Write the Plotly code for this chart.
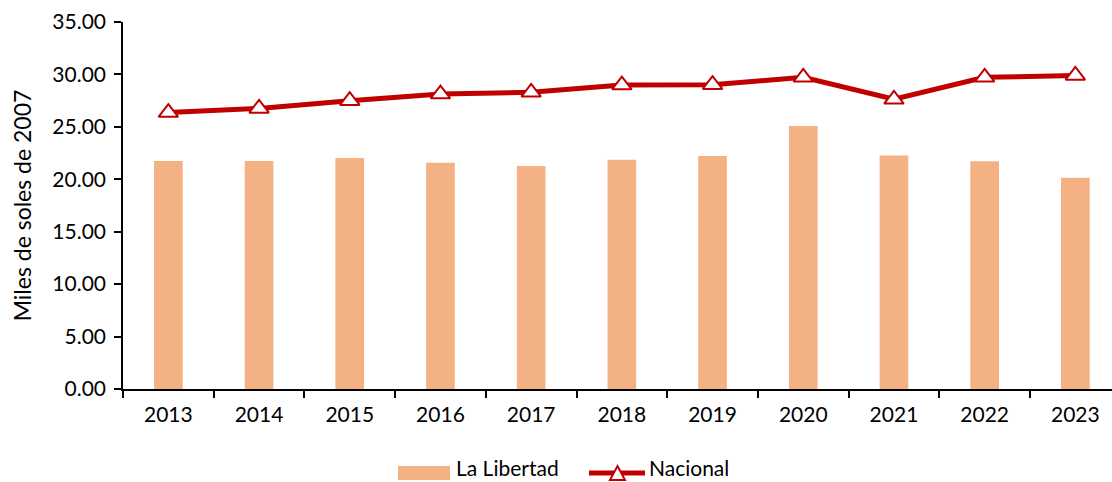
import plotly.graph_objects as go

years = ["2013", "2014", "2015", "2016", "2017", "2018", "2019", "2020", "2021", "2022", "2023"]
la_libertad = [21.74, 21.74, 22.03, 21.58, 21.27, 21.87, 22.22, 25.08, 22.28, 21.71, 20.15]
nacional = [26.36, 26.76, 27.50, 28.13, 28.29, 28.99, 29.02, 29.72, 27.63, 29.72, 29.90]
y_ticks = [0, 5, 10, 15, 20, 25, 30, 35]

BAR_COLOR = "#F4B183"
LINE_COLOR = "#C00000"
font_family = "Lato, Carlito, Calibri, sans-serif"

W, H = 1112, 482
ML, MR, MT, MB = 123, 0, 22, 93
PW, PH = W - ML - MR, H - MT - MB


def px(x):
    return (x - ML) / PW


def py(y):
    return (H - MB - y) / PH


fig = go.Figure()
fig.add_trace(go.Bar(
    x=years, y=la_libertad, name="La Libertad",
    marker=dict(color=BAR_COLOR, line=dict(width=0)),
    width=0.316, showlegend=False,
))
fig.add_trace(go.Scatter(
    x=years, y=nacional, name="Nacional", mode="lines+markers",
    line=dict(color=LINE_COLOR, width=5),
    marker=dict(symbol="triangle-up", size=17, color="white",
                line=dict(color=LINE_COLOR, width=2)),
    showlegend=False,
))

# legend drawn at the bottom
shapes = [
    dict(type="rect", xref="paper", yref="paper",
         x0=px(398), x1=px(450), y0=py(480), y1=py(466),
         fillcolor=BAR_COLOR, line=dict(width=0)),
    dict(type="line", xref="paper", yref="paper",
         x0=px(589), x1=px(645), y0=py(473), y1=py(473),
         line=dict(color=LINE_COLOR, width=5)),
    dict(type="path", xref="paper", yref="paper",
         path=f"M {px(610)} {py(480)} L {px(625)} {py(480)} L {px(617.5)} {py(466)} Z",
         fillcolor="white", line=dict(color=LINE_COLOR, width=2)),
]
annotations = [
    dict(text="La Libertad", xref="paper", yref="paper", x=px(455), y=py(481),
         xanchor="left", yanchor="bottom", showarrow=False, borderpad=0,
         font=dict(size=21)),
    dict(text="Nacional", xref="paper", yref="paper", x=px(648), y=py(481),
         xanchor="left", yanchor="bottom", showarrow=False, borderpad=0,
         font=dict(size=21)),
]

fig.update_layout(
    width=W, height=H,
    margin=dict(l=ML, r=MR, t=MT, b=MB),
    plot_bgcolor="white", paper_bgcolor="white",
    font=dict(family=font_family, size=21, color="black"),
    showlegend=False,
    shapes=shapes, annotations=annotations,
    xaxis=dict(
        type="category", range=[-0.5, 10.404], automargin=False,
        showline=True, linecolor="black", linewidth=1.5,
        ticks="outside", ticklen=7, tickcolor="black", tickwidth=1.5,
        tickson="boundaries", showgrid=False, zeroline=False,
        tickfont=dict(size=21), ticklabelstandoff=6,
    ),
    yaxis=dict(
        range=[0, 35], tickvals=y_ticks, tickformat=".2f", automargin=False,
        showline=True, linecolor="black", linewidth=1.5,
        ticks="outside", ticklen=7, tickcolor="black", tickwidth=1.5,
        showgrid=False, zeroline=False,
        title=dict(text="Miles de soles de 2007", font=dict(size=23), standoff=14),
        tickfont=dict(size=21), ticklabelstandoff=4,
    ),
)

fig.write_html("out.html")
